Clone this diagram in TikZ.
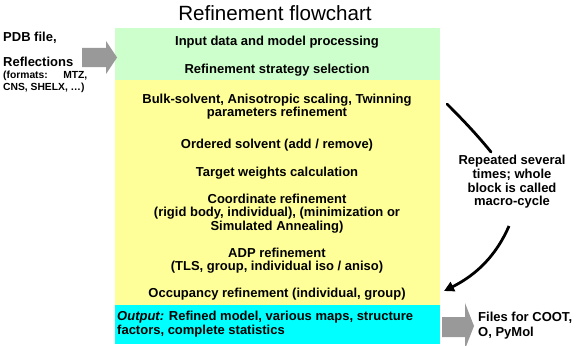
\documentclass[tikz,border=0pt]{standalone}
\usepackage{fontspec}
\setmainfont{Liberation Sans}
\usetikzlibrary{arrows.meta}
\begin{document}
\begin{tikzpicture}[x=1pt,y=-1pt,
  txt/.style={font=\fontsize{13}{13.6}\selectfont\bfseries, align=center, inner sep=0pt},
  side/.style={font=\fontsize{13}{14}\selectfont\bfseries, inner sep=0pt},
  small/.style={font=\fontsize{10.3}{12}\selectfont\bfseries, inner sep=0pt, align=left},
  grayarrow/.style={fill=black!40},
  curvearrow/.style={line width=2.8pt, black}]
\useasboundingbox (0,0) rectangle (577,345);
\fill[white] (0,0) rectangle (577,345);
% boxes
\fill[fill={rgb,255:red,204;green,255;blue,204}] (115,28) rectangle (440,80);
\fill[fill={rgb,255:red,255;green,255;blue,153}] (115,80) rectangle (440,305);
\fill[fill={rgb,255:red,0;green,255;blue,255}] (115,305) rectangle (440,344);
% title
\node[font=\fontsize{20.6}{22}\selectfont, inner sep=0pt] (title) at (275,13) {Refinement flowchart};
% box texts
\node[txt] (t1) at (277,42) {Input data and model processing};
\node[txt] (t2) at (277,70) {Refinement strategy selection};
\node[txt] (t3) at (277,106.5) {Bulk-solvent, Anisotropic scaling, Twinning\\parameters refinement};
\node[txt] (t4) at (277,145) {Ordered solvent (add / remove)};
\node[txt] (t5) at (277,173) {Target weights calculation};
\node[txt] (t6) at (277,213.5) {Coordinate refinement\\(rigid body, individual), (minimization or\\Simulated Annealing)};
\node[txt] (t7) at (277,260.5) {ADP refinement\\(TLS, group, individual iso / aniso)};
\node[txt] (t8) at (277,294) {Occupancy refinement (individual, group)};
\node[txt, align=left, anchor=west] (t9) at (117,324) {\textit{Output:} Refined model, various maps, structure\\factors, complete statistics};
% left text
\node[side, anchor=west] (pdb) at (3,38) {PDB file,};
\node[side, anchor=west] (refl) at (3,62) {Reflections};
\node[small, anchor=north west] (fmt) at (3,71) {(formats:\hspace{1.5em}MTZ,\\CNS, SHELX, …)};
% right text
\node[txt] (rep) at (512,182) {Repeated several\\times; whole\\block is called\\macro-cycle};
\node[side, anchor=west, align=left, font=\fontsize{13}{15}\selectfont\bfseries] (files) at (478,325.5) {Files for COOT,\\O, PyMol};
% gray arrows
\fill[grayarrow] (82,48) -- (106,48) -- (106,41) -- (117,57.5) -- (106,74) -- (106,67) -- (82,67) -- cycle;
\fill[grayarrow] (442,317) -- (465,317) -- (465,303) -- (474,326) -- (465,349) -- (465,337) -- (442,337) -- cycle;
% curved black arrows
\coordinate (a1) at (447,104);
\coordinate (a2) at (491,152);
\coordinate (b1) at (509,226);
\coordinate (b2) at (444,291);
\draw[curvearrow, line cap=round] (a1) .. controls (465,122) and (478,136) .. (a2);
\draw[curvearrow, -{Triangle[length=10pt,width=10pt]}] (b1) .. controls (496,256) and (476,275) .. (b2);
\end{tikzpicture}
\end{document}
